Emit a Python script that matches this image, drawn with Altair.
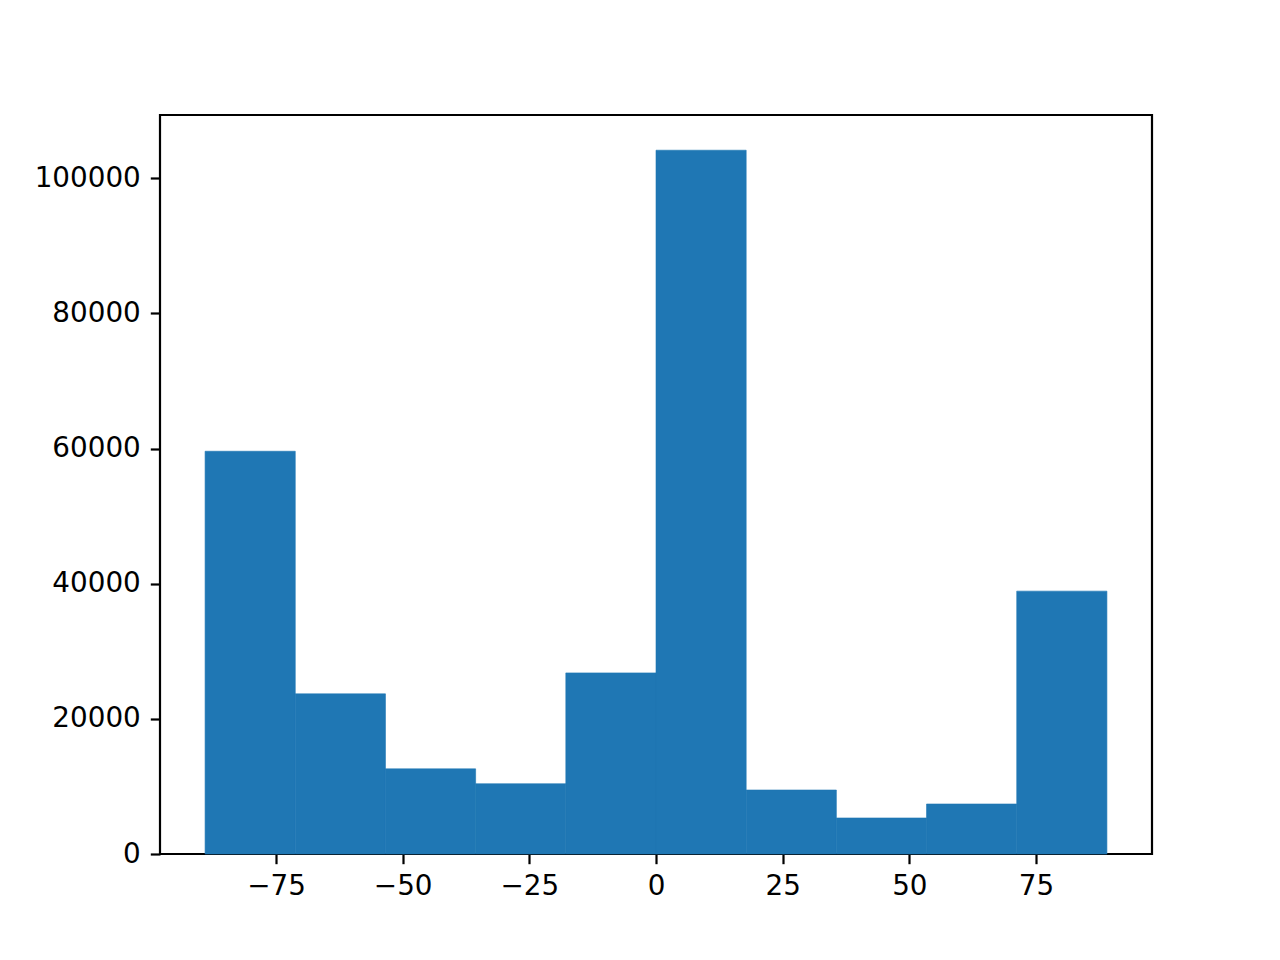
import altair as alt
import pandas as pd

bin_starts = [-89.0, -71.2, -53.4, -35.6, -17.8, 0.0, 17.8, 35.6, 53.4, 71.2]
bin_ends = [-71.2, -53.4, -35.6, -17.8, 0.0, 17.8, 35.6, 53.4, 71.2, 89.0]
counts = [59600, 23700, 12600, 10400, 26800, 104150, 9470, 5330, 7400, 38900]

x_ticks = [-75, -50, -25, 0, 25, 50, 75]
y_ticks = [0, 20000, 40000, 60000, 80000, 100000]

df = pd.DataFrame({"start": bin_starts, "end": bin_ends, "count": counts})

FS = 27.8
chart = alt.Chart(df).mark_rect(color="#1f77b4", stroke="#1f77b4", strokeWidth=0.6).encode(
    x=alt.X("start:Q",
            scale=alt.Scale(domain=[-97.9, 97.9], nice=False, zero=False),
            axis=alt.Axis(values=x_ticks, title=None, grid=False, domain=False,
                          tickSize=9.7, tickWidth=2.2, tickColor="black",
                          labelFont="DejaVu Sans", labelFontSize=FS, labelColor="black",
                          labelPadding=9, labelFlush=False,
                          labelExpr="replace(datum.label, '-', '\u2212')")),
    x2="end:Q",
    y=alt.Y("count:Q",
            scale=alt.Scale(domain=[0, 109360], nice=False),
            axis=alt.Axis(values=y_ticks, title=None, grid=False, domain=False,
                          tickSize=9.7, tickWidth=2.2, tickColor="black",
                          labelFont="DejaVu Sans", labelFontSize=FS, labelColor="black",
                          labelPadding=10, labelFlush=False, format="d")),
    y2=alt.datum(0),
).properties(
    width=992, height=739,
    autosize=alt.AutoSizeParams(type="none"),
    padding={"left": 152, "top": 107, "right": 120, "bottom": 100},
).configure_view(stroke="black", strokeWidth=2.2)

chart.save("out.html", embed_options={"renderer": "svg", "actions": False})
